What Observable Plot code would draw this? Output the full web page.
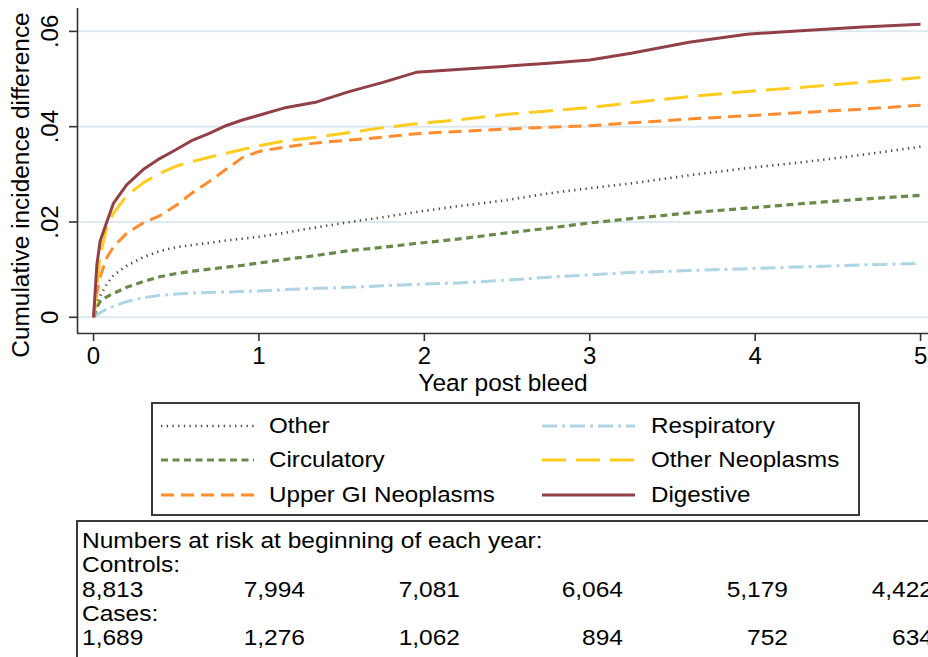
<!DOCTYPE html>
<html>
<head>
<meta charset="utf-8">
<script src="https://cdn.jsdelivr.net/npm/d3@7"></script>
<script src="https://cdn.jsdelivr.net/npm/@observablehq/plot@0.6"></script>
<style>
  body { margin: 0; background: #fff; }
  #wrap { position: relative; width: 928px; height: 657px; overflow: hidden; background: #fff;
          font-family: "Liberation Sans", Arial, sans-serif; color: #000; }
  #chart svg { display: block; }
  #legend { position: absolute; left: 151px; top: 402px; width: 709px; height: 114px;
            border: 2px solid #3a3a3a; box-sizing: border-box; }
  .item { position: absolute; height: 30px; display: flex; align-items: center; white-space: nowrap; }
  .item svg { display: block; }
  .lab { font-size: 22px; transform: scaleX(1.1); transform-origin: left center; }
  #table { position: absolute; left: 76px; top: 520px; width: 900px; height: 200px;
           border: 2px solid #3a3a3a; box-sizing: border-box; }
  .cell { position: absolute; font-size: 21.5px; line-height: 24px; white-space: nowrap; transform: scaleX(1.14); transform-origin: left center; }
  .cell.r { transform-origin: right center; text-align: right; }
</style>
</head>
<body>
<div id="wrap">
  <div id="chart"></div>
  <div id="legend"></div>
  <div id="table"></div>
</div>
<script>
// ---------------- data ----------------
const years = [0, 0.02, 0.04, 0.08, 0.12, 0.2, 0.3, 0.4, 0.5, 0.6, 0.7, 0.8, 0.9, 1.0,
  1.15, 1.35, 1.55, 1.75, 1.95, 2.2, 2.5, 2.75, 3.0, 3.25, 3.6, 3.95, 4.3, 4.65, 5.0];

const otherVals = [0, 0.003, 0.0045, 0.007, 0.0088, 0.0108, 0.0126, 0.0139, 0.0147, 0.0152, 0.0156, 0.0161, 0.0165, 0.0169,
  0.0177, 0.0189, 0.0200, 0.0210, 0.0221, 0.0233, 0.0246, 0.0260, 0.0271, 0.0281, 0.0298, 0.0313, 0.0326, 0.0341, 0.0358];
const circulatoryVals = [0, 0.0021, 0.0033, 0.0043, 0.0050, 0.0063, 0.0075, 0.0085, 0.0092, 0.0097, 0.0101, 0.0105, 0.0109, 0.0114,
  0.0121, 0.0130, 0.0140, 0.0147, 0.0155, 0.0164, 0.0177, 0.0187, 0.0198, 0.0207, 0.0219, 0.0229, 0.0239, 0.0248, 0.0256];
const upperGIVals = [0, 0.005, 0.0085, 0.0125, 0.0148, 0.0176, 0.0198, 0.0213, 0.0235, 0.0262, 0.0285, 0.0310, 0.0335, 0.0348,
  0.0357, 0.0366, 0.0372, 0.0378, 0.0385, 0.0390, 0.0395, 0.0399, 0.0402, 0.0408, 0.0416, 0.0423, 0.0430, 0.0437, 0.0445];
const respiratoryVals = [0, 0.0005, 0.0010, 0.0017, 0.0023, 0.0033, 0.0041, 0.0046, 0.0049, 0.0051, 0.0052, 0.0053, 0.0054, 0.0055,
  0.0058, 0.0061, 0.0063, 0.0066, 0.0069, 0.0072, 0.0078, 0.0084, 0.0089, 0.0094, 0.0098, 0.0102, 0.0106, 0.0110, 0.0113];
const otherNeoVals = [0, 0.0063, 0.013, 0.0188, 0.0218, 0.0255, 0.0282, 0.0302, 0.0317, 0.0327, 0.0336, 0.0344, 0.0352, 0.0360,
  0.0370, 0.0378, 0.0388, 0.0398, 0.0406, 0.0414, 0.0426, 0.0433, 0.0440, 0.0450, 0.0463, 0.0474, 0.0483, 0.0493, 0.0503];
const digestiveVals = [0, 0.011, 0.016, 0.020, 0.0239, 0.0278, 0.0310, 0.0333, 0.0352, 0.0372, 0.0386, 0.0402, 0.0414, 0.0424,
  0.0439, 0.0452, 0.0474, 0.0493, 0.0514, 0.0520, 0.0527, 0.0533, 0.0540, 0.0554, 0.0577, 0.0594, 0.0602, 0.0609, 0.0615];

const seriesNames = ["Other", "Circulatory", "Upper GI Neoplasms", "Respiratory", "Other Neoplasms", "Digestive"];
const seriesValues = [otherVals, circulatoryVals, upperGIVals, respiratoryVals, otherNeoVals, digestiveVals];

const xTicks = [0, 1, 2, 3, 4, 5];
const yTicks = [0, 0.02, 0.04, 0.06];
const yTickLabels = ["0", ".02", ".04", ".06"];
const xTitle = "Year post bleed";
const yTitle = "Cumulative incidence difference";

const riskHeader = "Numbers at risk at beginning of each year:";
const controlsLabel = "Controls:";
const controlsAtRisk = ["8,813", "7,994", "7,081", "6,064", "5,179", "4,422"];
const casesLabel = "Cases:";
const casesAtRisk = ["1,689", "1,276", "1,062", "894", "752", "634"];

// ---------------- styles ----------------
const styles = {
  "Other":              {stroke: "#4a4a4a", width: 2.6, dash: "1.3,4.4"},
  "Circulatory":        {stroke: "#6a8a4c", width: 3.2, dash: "7,4.5"},
  "Upper GI Neoplasms": {stroke: "#ff8c2e", width: 3,   dash: "13,7"},
  "Respiratory":        {stroke: "#add5e3", width: 3,   dash: "15,5,3,5"},
  "Other Neoplasms":    {stroke: "#ffcc1f", width: 3,   dash: "24,10"},
  "Digestive":          {stroke: "#924048", width: 3,   dash: null}
};
const drawOrder = ["Respiratory", "Circulatory", "Other", "Upper GI Neoplasms", "Other Neoplasms", "Digestive"];

const rows = seriesNames.flatMap((s, k) => years.map((t, i) => ({series: s, t, v: seriesValues[k][i]})));

const xDomain = [-0.097, 5.048];
const yDomain = [-0.0034, 0.0648];
const axisColor = "#333";

const chart = Plot.plot({
  width: 928,
  height: 400,
  marginLeft: 77,
  marginRight: 0,
  marginTop: 8,
  marginBottom: 67,
  x: {domain: xDomain},
  y: {domain: yDomain},
  style: {fontFamily: '"Liberation Sans", Arial, sans-serif', fontSize: "24px", color: "#000", background: "#fff", overflow: "visible"},
  marks: [
    Plot.gridY(yTicks, {stroke: "#dde9ef", strokeOpacity: 1, strokeWidth: 2}),
    ...drawOrder.map(s => {
      const st = styles[s];
      return Plot.line(rows.filter(d => d.series === s), {
        x: "t", y: "v", stroke: st.stroke, strokeWidth: st.width,
        strokeDasharray: st.dash ?? undefined,
        strokeLinecap: "butt", strokeLinejoin: "round"
      });
    }),
    Plot.ruleX([xDomain[0]], {stroke: axisColor, strokeWidth: 1.6}),
    Plot.ruleY([yDomain[0]], {stroke: axisColor, strokeWidth: 1.6}),
    Plot.axisX({ticks: xTicks, tickSize: 8, tickPadding: 5, fontSize: 24, label: null, stroke: axisColor, strokeWidth: 1.6, tickFormat: d => String(d)}),
    Plot.axisY({ticks: yTicks, tickSize: 8, tickRotate: -90, tickPadding: 12, fontSize: 24, label: null, stroke: axisColor, strokeWidth: 1.6,
      tickFormat: d => yTickLabels[yTicks.indexOf(d)]}),
    Plot.text([xTitle], {frameAnchor: "bottom", dy: 50, fontSize: 24.5, text: d => d, lineAnchor: "middle", textAnchor: "middle"}),
    Plot.text([yTitle], {frameAnchor: "left", dx: -56, dy: 14, rotate: -90, fontSize: 24.4, text: d => d, lineAnchor: "middle", textAnchor: "middle"})
  ]
});
document.getElementById("chart").appendChild(chart);

// ---------------- legend ----------------
const legend = document.getElementById("legend");
const legendLayout = [
  {col: 0, row: 0}, {col: 0, row: 1}, {col: 0, row: 2},
  {col: 1, row: 0}, {col: 1, row: 1}, {col: 1, row: 2}
];
const colSample = [8, 389];
const colText = [116, 498];
const rowCenter = [22, 56, 91];
const legendOrder = ["Other", "Circulatory", "Upper GI Neoplasms", "Respiratory", "Other Neoplasms", "Digestive"];
legendOrder.forEach((s, i) => {
  const {col, row} = legendLayout[i];
  const st = styles[s];
  const sw = 93;
  const samp = document.createElement("div");
  samp.className = "item";
  samp.style.left = colSample[col] + "px";
  samp.style.top = (rowCenter[row] - 15) + "px";
  samp.innerHTML = `<svg width="${sw}" height="10"><line x1="0" x2="${sw}" y1="5" y2="5" stroke="${st.stroke}" stroke-width="${st.width}" ${st.dash ? `stroke-dasharray="${st.dash}"` : ""}/></svg>`;
  legend.appendChild(samp);
  const lab = document.createElement("div");
  lab.className = "item lab";
  lab.style.left = colText[col] + "px";
  lab.style.top = (rowCenter[row] - 15) + "px";
  lab.textContent = s;
  legend.appendChild(lab);
});

// ---------------- risk table ----------------
const table = document.getElementById("table");
function cell(text, top, left, right) {
  const d = document.createElement("div");
  d.className = right != null ? "cell r" : "cell";
  d.style.top = top + "px";
  if (left != null) d.style.left = left + "px";
  if (right != null) { d.style.left = (right - 200) + "px"; d.style.width = "200px"; }
  d.textContent = text;
  table.appendChild(d);
}
const tableLeft = 4;
const colRight = [null, 227, 382, 545, 710, 855];
const lineTop = [7, 31, 56, 80, 104];
cell(riskHeader, lineTop[0], tableLeft);
cell(controlsLabel, lineTop[1], tableLeft);
controlsAtRisk.forEach((v, i) => i === 0 ? cell(v, lineTop[2], tableLeft) : cell(v, lineTop[2], null, colRight[i]));
cell(casesLabel, lineTop[3], tableLeft);
casesAtRisk.forEach((v, i) => i === 0 ? cell(v, lineTop[4], tableLeft) : cell(v, lineTop[4], null, colRight[i]));
</script>
</body>
</html>
